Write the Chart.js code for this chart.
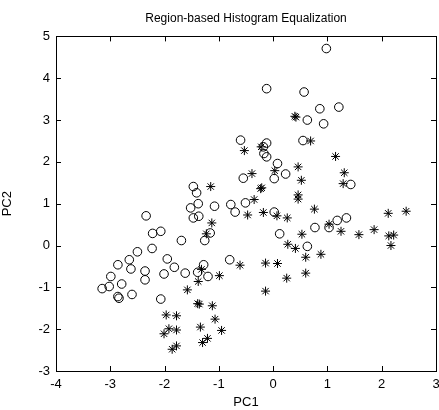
<!DOCTYPE html>
<html>
<head>
<meta charset="utf-8">
<script src="https://cdn.jsdelivr.net/npm/chart.js@4/dist/chart.umd.min.js"></script>
<style>
	html, body { margin: 0; padding: 0; background: #fff; }
	#wrap { width: 439px; height: 410px; }
</style>
</head>
<body>
<div id="wrap"><canvas id="myChart"></canvas></div>
<script>
const chartTitle = 'Region-based Histogram Equalization';
const xTicks = [-4, -3, -2, -1, 0, 1, 2, 3];
const yTicks = [-3, -2, -1, 0, 1, 2, 3, 4, 5];

// circles (o)
const circlePC1 = [0.98, -0.12, 0.57, 0.86, 1.21, 0.63, 0.93, -0.60, 0.55, -0.12,
	-0.18, -0.17, -0.12, 0.08, 0.23, 0.02, -0.55, 1.43, -1.47, -1.41,
	-1.38, -1.52, -1.47, -1.37, -1.08, -0.78, -0.70, -0.51, 0.02, 1.18,
	1.35, 0.77, 1.03, 0.12, 0.63, -0.80, -2.34, -1.16, -1.26, -2.22,
	-2.07, -1.69, -2.23, -2.50, -2.65, -2.62, -2.86, -2.99, -2.79, -3.15,
	-3.02, -2.86, -2.84, -2.60, -2.36, -2.36, -1.95, -1.82, -2.01, -1.62,
	-1.39, -1.28, -1.20, -2.07];
const circlePC2 = [4.71, 3.75, 3.67, 3.27, 3.31, 3.00, 2.91, 2.52, 2.51, 2.45,
	2.36, 2.20, 2.12, 1.96, 1.71, 1.60, 1.61, 1.46, 1.41, 1.26,
	1.00, 0.90, 0.66, 0.70, 0.94, 0.98, 0.80, 1.02, 0.80, 0.60,
	0.66, 0.43, 0.43, 0.28, -0.02, -0.34, 0.71, 0.30, 0.12, 0.29,
	0.34, 0.12, -0.07, -0.15, -0.34, -0.56, -0.46, -0.74, -0.92, -1.03,
	-0.98, -1.22, -1.26, -1.17, -0.61, -0.82, -0.32, -0.52, -0.68, -0.66,
	-0.64, -0.46, -0.74, -1.28];

// stars (*)
const starPC1 = [0.40, 0.42, 0.69, -0.53, -0.22, 1.15, 0.46, 0.03, -0.39, 1.31,
	0.52, 1.29, -0.23, -0.21, 0.46, 0.46, -0.35, 0.76, -0.47, -0.18,
	0.07, 0.26, 2.12, 2.45, -1.15, 1.03, 1.25, 1.58, 1.86, 2.13,
	2.22, 2.17, 0.53, 0.27, 0.41, 0.60, 0.88, -0.61, -0.14, 0.08,
	0.25, 0.60, -0.14, -0.95, -0.99, -1.13, -1.23, -1.32, -1.38, -1.58,
	-1.39, -1.36, -1.12, -1.97, -1.78, -1.92, -1.78, -2.01, -1.34, -1.07,
	-1.30, -1.21, -1.86, -1.78];
const starPC2 = [3.09, 3.07, 2.50, 2.27, 2.36, 2.13, 1.88, 1.79, 1.72, 1.74,
	1.56, 1.48, 1.36, 1.38, 1.21, 1.11, 1.10, 0.87, 0.73, 0.79,
	0.71, 0.66, 0.77, 0.82, 1.41, 0.51, 0.34, 0.26, 0.38, 0.23,
	0.25, 0.00, 0.27, 0.03, -0.07, -0.28, -0.21, -0.47, -0.42, -0.43,
	-0.78, -0.66, -1.09, -2.03, -0.72, 0.54, 0.28, -0.57, -0.86, -1.06,
	-1.39, -1.40, -1.44, -1.66, -1.68, -1.99, -2.02, -2.11, -1.95, -1.76,
	-2.32, -2.22, -2.48, -2.40];

// box round the plot with ticks pointing inwards
const boxPlugin = {
	id: 'box',
	afterDraw(chart) {
		const c = chart.ctx, a = chart.chartArea;
		const xs = chart.scales.x, ys = chart.scales.y;
		const len = 5;
		c.save();
		c.strokeStyle = '#000';
		c.lineWidth = 1;
		c.strokeRect(Math.round(a.left) + 0.5, Math.round(a.top) + 0.5,
			Math.round(a.right - a.left), Math.round(a.bottom - a.top));
		c.beginPath();
		xTicks.forEach(v => {
			const px = Math.round(xs.getPixelForValue(v)) + 0.5;
			c.moveTo(px, a.bottom); c.lineTo(px, a.bottom - len);
			c.moveTo(px, a.top); c.lineTo(px, a.top + len);
		});
		yTicks.forEach(v => {
			const py = Math.round(ys.getPixelForValue(v)) + 0.5;
			c.moveTo(a.left, py); c.lineTo(a.left + len, py);
			c.moveTo(a.right, py); c.lineTo(a.right - len, py);
		});
		c.stroke();
		c.restore();
	}
};

const noPad = () => ({ left: 0, top: 0, right: 0, bottom: 0 });

const font = { family: 'Arial, "Liberation Sans", sans-serif', size: 13 };

new Chart(document.getElementById('myChart'), {
	type: 'scatter',
	data: {
		datasets: [{
			label: 'o',
			data: circlePC1.map((x, i) => ({ x: x, y: circlePC2[i] })),
			pointStyle: 'circle',
			radius: 4.3,
			borderColor: '#000',
			backgroundColor: 'rgba(0,0,0,0)',
			borderWidth: 1
		}, {
			label: '*',
			data: starPC1.map((x, i) => ({ x: x, y: starPC2[i] })),
			pointStyle: 'star',
			radius: 4.5,
			borderColor: '#000',
			backgroundColor: '#000',
			borderWidth: 1
		}]
	},
	options: {
		responsive: true,
		maintainAspectRatio: false,
		animation: false,
		events: [],
		layout: { autoPadding: false, padding: { top: 0, right: 3, bottom: 0, left: 0 } },
		plugins: {
			legend: { display: false },
			tooltip: { enabled: false },
			title: {
				display: true,
				fullSize: false,
				text: chartTitle,
				color: '#000',
				font: { family: font.family, size: 12, weight: 'normal' },
				padding: { top: 11, bottom: 11 }
			}
		},
		scales: {
			x: {
				type: 'linear',
				min: -4, max: 3,
				afterBuildTicks: s => { s.ticks = xTicks.map(v => ({ value: v })); },
				afterFit: s => {
					s.height = 39;
					s.paddingLeft = 0; s.paddingRight = 0;
					s.getPadding = noPad;
				},
				grid: { display: false, drawTicks: false },
				border: { display: false },
				ticks: { color: '#000', font: font, padding: 6, maxRotation: 0 },
				title: { display: true, text: 'PC1', color: '#000', font: font, padding: { top: 0, bottom: 0 } }
			},
			y: {
				type: 'linear',
				min: -3, max: 5,
				afterBuildTicks: s => { s.ticks = yTicks.map(v => ({ value: v })); },
				afterFit: s => {
					s.width = 56;
					s.paddingTop = 0; s.paddingBottom = 0;
					s.getPadding = noPad;
				},
				grid: { display: false, drawTicks: false },
				border: { display: false },
				ticks: { color: '#000', font: font, padding: 6 },
				title: { display: true, text: 'PC2', color: '#000', font: font, padding: { top: 0, bottom: 12 } }
			}
		}
	},
	plugins: [boxPlugin]
});
</script>
</body>
</html>
